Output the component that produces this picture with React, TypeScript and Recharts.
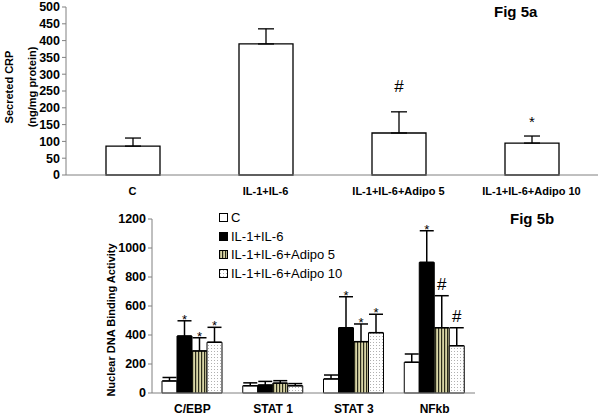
import React from "react";
import { BarChart, Bar, XAxis, YAxis, ErrorBar, LabelList, Label } from "recharts";

// Fig 5a
const crpGroups = ["C", "IL-1+IL-6", "IL-1+IL-6+Adipo 5", "IL-1+IL-6+Adipo 10"];
const crpValues = [86, 390, 125, 95];
const crpErrors = [24, 45, 63, 21];
const crpMarks = ["", "", "#", "*"];
const crpTicks = [0, 50, 100, 150, 200, 250, 300, 350, 400, 450, 500];

// Fig 5b
const factors = ["C/EBP", "STAT 1", "STAT 3", "NFkb"];
const seriesNames = ["C", "IL-1+IL-6", "IL-1+IL-6+Adipo 5", "IL-1+IL-6+Adipo 10"];
const cValues = [83, 50, 97, 212];
const cErrors = [24, 20, 27, 57];
const il6Values = [393, 55, 450, 901];
const il6Errors = [105, 25, 214, 218];
const adipo5Values = [290, 68, 354, 450];
const adipo5Errors = [91, 17, 122, 221];
const adipo10Values = [350, 50, 416, 326];
const adipo10Errors = [103, 15, 127, 124];
const il6Marks = ["*", "", "*", "*"];
const adipo5Marks = ["*", "", "*", "#"];
const adipo10Marks = ["*", "", "*", "#"];
const nuclearTicks = [0, 200, 400, 600, 800, 1000, 1200];

const FONT = "Arial, 'Liberation Sans', sans-serif";
const AXIS = "#808080";

const crpData = crpGroups.map((g, i) => ({
  name: g,
  value: crpValues[i],
  err: [0, crpErrors[i]],
}));

const nuclearData = factors.map((f, i) => ({
  name: f,
  c: cValues[i],
  cErr: [0, cErrors[i]],
  il6: il6Values[i],
  il6Err: [0, il6Errors[i]],
  a5: adipo5Values[i],
  a5Err: [0, adipo5Errors[i]],
  a10: adipo10Values[i],
  a10Err: [0, adipo10Errors[i]],
}));

const fills = ["#ffffff", "#000000", "url(#stripes)", "url(#dots)"];

// star / hash above the error bar, placed with the bar's own pixel scale
const markRenderer =
  (marks: string[], errors: number[], offsets: { [k: string]: number }, starSize = 13) =>
  (props: any) => {
    const vb = props.viewBox ?? props;
    const { x, y, width, height } = vb;
    const i = props.index;
    const m = marks[i];
    if (!m) return null;
    const v = Number(props.value);
    const pxPerUnit = v ? height / v : 0;
    const top = y - errors[i] * pxPerUnit;
    return (
      <text
        x={x + width / 2}
        y={top + offsets[m]}
        textAnchor="middle"
        fontFamily={FONT}
        fontSize={m === "#" ? 17 : starSize}
        fill="#000"
      >
        {m}
      </text>
    );
  };

const Patterns = () => (
  <svg width={0} height={0} style={{ position: "absolute" }}>
    <defs>
      <pattern id="stripes" width={3} height={4} patternUnits="userSpaceOnUse">
        <rect width={3} height={4} fill="#d9d6a6" />
        <rect x={0} width={1.2} height={4} fill="#2a2a1a" />
      </pattern>
      <pattern id="dots" width={3} height={3} patternUnits="userSpaceOnUse">
        <rect width={3} height={3} fill="#ffffff" />
        <rect x={1} y={1} width={1} height={1} fill="#b0b0b0" />
      </pattern>
    </defs>
  </svg>
);

const TopYLabel = (props: any) => {
  const vb = props.viewBox;
  const cy = vb.y + vb.height / 2 - 4;
  return (
    <g fontFamily={FONT} fontSize={11} fontWeight="bold" fill="#000">
      <text x={13} y={cy} transform={`rotate(-90 13 ${cy})`} textAnchor="middle">
        Secreted CRP
      </text>
      <text x={36} y={cy} transform={`rotate(-90 36 ${cy})`} textAnchor="middle">
        (ng/mg protein)
      </text>
    </g>
  );
};

const BottomYLabel = (props: any) => {
  const vb = props.viewBox;
  const cy = vb.y + vb.height / 2 + 14;
  return (
    <text
      x={115}
      y={cy}
      transform={`rotate(-90 115 ${cy})`}
      textAnchor="middle"
      fontFamily={FONT}
      fontSize={11}
      fontWeight="bold"
      fill="#000"
    >
      Nuclear DNA Binding Activity
    </text>
  );
};

const tickStyle = (size: number) => ({
  fontFamily: FONT,
  fontSize: size,
  fontWeight: "bold" as const,
  fill: "#000",
});

export default function App() {
  return (
    <div
      style={{
        position: "fixed",
        left: 0,
        top: 0,
        width: 600,
        height: 417,
        background: "#fff",
        fontFamily: FONT,
      }}
    >
      <Patterns />
      <div style={{ position: "absolute", left: 0, top: 0 }}>
        <BarChart
          width={600}
          height={200}
          data={crpData}
          margin={{ top: 7, right: 2, left: 0, bottom: 0 }}
          barSize={54}
        >
          <XAxis
            dataKey="name"
            height={25}
            tickLine={false}
            axisLine={{ stroke: AXIS }}
            tick={{ ...tickStyle(11), dy: 4 }}
            interval={0}
          />
          <YAxis
            width={66}
            domain={[0, 500]}
            ticks={crpTicks}
            interval={0}
            tickSize={4}
            tickLine={{ stroke: AXIS }}
            axisLine={{ stroke: AXIS }}
            tick={tickStyle(12.5)}
          >
            <Label content={<TopYLabel />} />
          </YAxis>
          <Bar dataKey="value" fill="#fff" stroke="#000" strokeWidth={1.3} isAnimationActive={false}>
            <ErrorBar dataKey="err" width={8} stroke="#000" strokeWidth={1.3} />
            <LabelList
              dataKey="value"
              content={markRenderer(crpMarks, crpErrors, { "*": -9, "#": -20 }, 15)}
            />
          </Bar>
        </BarChart>
      </div>
      <div style={{ position: "absolute", left: 0, top: 200 }}>
        <BarChart
          width={600}
          height={217}
          data={nuclearData}
          margin={{ top: 19, right: 125, left: 0, bottom: 0 }}
          barSize={15}
          barGap={0}
        >
          <XAxis
            dataKey="name"
            height={24}
            tickLine={false}
            axisLine={{ stroke: AXIS }}
            tick={{ ...tickStyle(12), dy: 3 }}
            interval={0}
          />
          <YAxis
            width={152}
            domain={[0, 1200]}
            ticks={nuclearTicks}
            interval={0}
            tickSize={4}
            tickLine={{ stroke: AXIS }}
            axisLine={{ stroke: AXIS }}
            tick={tickStyle(12.5)}
          >
            <Label content={<BottomYLabel />} />
          </YAxis>
          <Bar dataKey="c" fill={fills[0]} stroke="#000" isAnimationActive={false}>
            <ErrorBar dataKey="cErr" width={7} stroke="#000" />
          </Bar>
          <Bar dataKey="il6" fill={fills[1]} stroke="#000" isAnimationActive={false}>
            <ErrorBar dataKey="il6Err" width={7} stroke="#000" />
            <LabelList dataKey="il6" content={markRenderer(il6Marks, il6Errors, { "*": 3, "#": -6 })} />
          </Bar>
          <Bar dataKey="a5" fill={fills[2]} stroke="#000" isAnimationActive={false}>
            <ErrorBar dataKey="a5Err" width={7} stroke="#000" />
            <LabelList dataKey="a5" content={markRenderer(adipo5Marks, adipo5Errors, { "*": 3, "#": -6 })} />
          </Bar>
          <Bar dataKey="a10" fill={fills[3]} stroke="#000" isAnimationActive={false}>
            <ErrorBar dataKey="a10Err" width={7} stroke="#000" />
            <LabelList dataKey="a10" content={markRenderer(adipo10Marks, adipo10Errors, { "*": 3, "#": -6 })} />
          </Bar>
        </BarChart>
      </div>
      {/* legend of Fig 5b */}
      <div style={{ position: "absolute", left: 219, top: 208 }}>
        {seriesNames.map((s, i) => (
          <div key={s} style={{ display: "flex", alignItems: "center", height: 18.7, fontSize: 13, color: "#000" }}>
            <svg width={9} height={9} style={{ marginRight: 3 }}>
              <rect x={0.5} y={0.5} width={8} height={8} fill={fills[i]} stroke="#000" strokeWidth={1} />
            </svg>
            <span>{s}</span>
          </div>
        ))}
      </div>
      <div style={{ position: "absolute", left: 494, top: 3, fontSize: 15, fontWeight: "bold" }}>Fig 5a</div>
      <div style={{ position: "absolute", left: 510, top: 210, fontSize: 15, fontWeight: "bold" }}>Fig 5b</div>
    </div>
  );
}
